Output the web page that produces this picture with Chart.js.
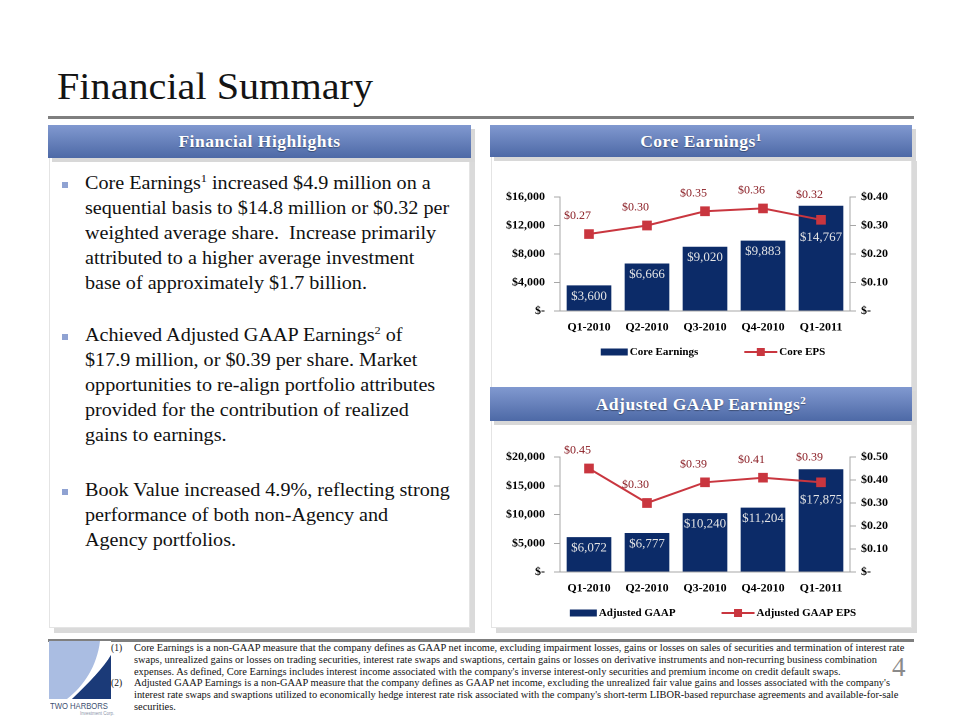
<!DOCTYPE html>
<html><head><meta charset="utf-8">
<script src="https://cdn.jsdelivr.net/npm/chart.js@4.4.1/dist/chart.umd.min.js"></script>
<style>
html,body{margin:0;padding:0;background:#fff;}
body{width:960px;height:720px;position:relative;overflow:hidden;font-family:"Liberation Serif",serif;color:#111;}
.abs{position:absolute;}
#title{left:57px;top:64px;font-size:38px;line-height:44px;white-space:nowrap;transform-origin:0 0;color:#141414;}
#rule{left:48px;top:116px;width:866px;height:3px;background:#7f7f7f;}
#footrule{left:48px;top:639px;width:866px;height:3px;background:#7f7f7f;}
.panel{position:absolute;background:#fff;border:1px solid #e4e4e4;box-shadow:5px 5px 0 #dadada;box-sizing:border-box;}
.hdr{position:absolute;background:linear-gradient(#8199d0,#4d69a6);color:#fff;font-weight:bold;font-size:17.5px;text-align:center;letter-spacing:0.5px;text-shadow:0 1px 1px rgba(0,0,0,0.35);box-shadow:4px 4px 0 #d8d8d8;box-sizing:border-box;}
.hdr sup{font-size:11px;vertical-align:6px;line-height:0;}
.para{position:absolute;left:85px;font-size:18px;line-height:25px;}
.para div{white-space:nowrap;transform-origin:0 50%;}
.para sup{font-size:11px;vertical-align:7px;line-height:0;}
.bul{position:absolute;left:62px;width:6px;height:6px;background:#8fa2d2;}
#fn{left:134px;top:643px;font-size:9.5px;line-height:11.8px;}
#fn div{white-space:nowrap;transform-origin:0 50%;}
.fnum{position:absolute;left:111px;font-size:9.5px;line-height:11.8px;}
#pnum{left:892px;top:652px;font-size:27px;color:#8a8a8a;}
#brand{left:50px;top:701px;font-family:"Liberation Sans",sans-serif;font-size:8.5px;color:#3d4f70;white-space:nowrap;transform-origin:0 0;}
#brand2{left:80px;top:711px;font-family:"Liberation Sans",sans-serif;font-size:4.5px;color:#8a94a8;white-space:nowrap;}
canvas{position:absolute;}
</style>
</head>
<body>
<div id="title" class="abs">Financial Summary</div>
<div id="rule" class="abs"></div>

<!-- Left panel -->
<div class="panel" style="left:49px;top:157px;width:421px;height:471px;"></div>
<div class="hdr" style="left:48px;top:125px;width:423px;height:33px;line-height:33px;">Financial Highlights</div>

<div class="bul" style="top:182px"></div>
<div class="para" style="top:171px">
<div class="bl">Core Earnings<sup>1</sup> increased $4.9 million on a</div>
<div class="bl">sequential basis to $14.8 million or $0.32 per</div>
<div class="bl">weighted average share.&nbsp; Increase primarily</div>
<div class="bl">attributed to a higher average investment</div>
<div class="bl">base of approximately $1.7 billion.</div>
</div>
<div class="bul" style="top:334px"></div>
<div class="para" style="top:323px">
<div class="bl">Achieved Adjusted GAAP Earnings<sup>2</sup> of</div>
<div class="bl">$17.9 million, or $0.39 per share. Market</div>
<div class="bl">opportunities to re-align portfolio attributes</div>
<div class="bl">provided for the contribution of realized</div>
<div class="bl">gains to earnings.</div>
</div>
<div class="bul" style="top:489px"></div>
<div class="para" style="top:478px">
<div class="bl">Book Value increased 4.9%, reflecting strong</div>
<div class="bl">performance of both non-Agency and</div>
<div class="bl">Agency portfolios.</div>
</div>

<!-- Right column -->
<div class="panel" style="left:491px;top:156px;width:421px;height:472px;"></div>
<div class="hdr" style="left:490px;top:125px;width:422px;height:32px;line-height:32px;">Core Earnings<sup>1</sup></div>
<canvas id="c1"></canvas>
<div class="hdr" style="left:490px;top:387px;width:422px;height:34px;line-height:34px;">Adjusted GAAP Earnings<sup>2</sup></div>
<canvas id="c2"></canvas>

<!-- Footer -->
<div id="footrule" class="abs"></div>
<svg class="abs" style="left:49px;top:641px" width="62" height="58" viewBox="0 0 62 58">
<rect width="62" height="58" fill="#aabde2"/>
<path d="M51,0 C48,25 35,45 18,58 L23,58 C40,42 55,26 62,14 L62,0 Z" fill="#ffffff"/>
<path d="M62,14 C55,26 40,42 23,58 L62,58 Z" fill="#1b3a78"/>
</svg>
<div id="brand" class="abs">TWO HARBORS</div>
<div id="brand2" class="abs">Investment Corp.</div>

<div class="fnum" style="top:643px">(1)</div>
<div class="fnum" style="top:678.4px">(2)</div>
<div id="fn" class="abs">
<div class="fl">Core Earnings is a non-GAAP measure that the company defines as GAAP net income, excluding impairment losses, gains or losses on sales of securities and termination of interest rate</div>
<div class="fl">swaps, unrealized gains or losses on trading securities, interest rate swaps and swaptions, certain gains or losses on derivative instruments and non-recurring business combination</div>
<div class="fl">expenses. As defined, Core Earnings includes interest income associated with the company's inverse interest-only securities and premium income on credit default swaps.</div>
<div class="fl">Adjusted GAAP Earnings is a non-GAAP measure that the company defines as GAAP net income, excluding the unrealized fair value gains and losses associated with the company's</div>
<div class="fl">interest rate swaps and swaptions utilized to economically hedge interest rate risk associated with the company's short-term LIBOR-based repurchase agreements and available-for-sale</div>
<div class="fl">securities.</div>
</div>
<div id="pnum" class="abs">4</div>

<script>
// ---------------- DATA ----------------
const quarters = ['Q1-2010', 'Q2-2010', 'Q3-2010', 'Q4-2010', 'Q1-2011'];
const coreEarnings = [3600, 6666, 9020, 9883, 14767];
const coreEPS = [0.27, 0.30, 0.35, 0.36, 0.32];
const adjustedGAAP = [6072, 6777, 10240, 11204, 17875];
const adjustedGAAPEPS = [0.45, 0.30, 0.39, 0.41, 0.39];
const coreDollarTicks = [0, 4000, 8000, 12000, 16000];
const coreEPSTicks = [0, 0.10, 0.20, 0.30, 0.40];
const adjDollarTicks = [0, 5000, 10000, 15000, 20000];
const adjEPSTicks = [0, 0.10, 0.20, 0.30, 0.40, 0.50];
const seriesNames = ['Core Earnings', 'Core EPS', 'Adjusted GAAP', 'Adjusted GAAP EPS'];

// ---------------- TEXT FITTING (styling only) ----------------
function fitGroup(selector, targets) {
  const els = Array.from(document.querySelectorAll(selector));
  let sumT = 0, sumA = 0;
  els.forEach((el, i) => {
    el.style.display = 'inline-block';
    sumA += el.getBoundingClientRect().width; sumT += targets[i];
  });
  const s = sumT / sumA;
  els.forEach(el => { el.style.display = 'block'; el.style.width = 'max-content'; el.style.transform = 'scaleX(' + s + ')'; });
}
function fitOne(id, w) {
  const el = document.getElementById(id);
  el.style.display = 'inline-block';
  const a = el.getBoundingClientRect().width;
  el.style.transform = 'scaleX(' + (w / a) + ')';
}
fitGroup('.bl', [347, 351, 349, 333, 267, 328, 332, 351, 334, 132, 367, 315, 151]);
fitGroup('.fl', [770, 736, 715, 757, 762, 42]);
fitOne('title', 316);
fitOne('brand', 58);

// ---------------- CHARTS ----------------
const FONT = '"Liberation Serif", serif';
const BAR_COLOR = '#0c2b68';
const LINE_COLOR = '#c9363f';
const AXIS_COLOR = '#a6a6a6';

function fmtDollar(v) { return v === 0 ? '$-' : '$' + v.toLocaleString('en-US'); }
function fmtEPS(v) { return v === 0 ? '$-' : '$' + v.toFixed(2); }

const labelPlugin = {
  id: 'valueLabels',
  afterDatasetsDraw(chart) {
    const ctx = chart.ctx;
    const dsets = chart.data.datasets;
    const barIdx = dsets.findIndex(d => d.type === 'bar');
    const lineIdx = dsets.findIndex(d => d.type === 'line');
    const bars = chart.getDatasetMeta(barIdx).data;
    const pts = chart.getDatasetMeta(lineIdx).data;
    ctx.save();
    ctx.textBaseline = 'middle';
    // bar value labels, moved below the EPS marker when the marker sits inside the bar
    ctx.font = '13px ' + FONT;
    ctx.fillStyle = '#e6e6e6';
    ctx.textAlign = 'center';
    bars.forEach((el, j) => {
      let y = el.y + 11;
      const p = pts[j];
      if (p && p.y > el.y - 4 && p.y < y + 10) y = Math.max(y, p.y + 18);
      ctx.fillText(fmtDollar(dsets[barIdx].data[j]), el.x, y);
    });
    // EPS labels, right-aligned just above-left of the marker
    ctx.font = '12px ' + FONT;
    ctx.fillStyle = '#8a1d24';
    ctx.textAlign = 'right';
    pts.forEach((el, j) => {
      const b = bars[j];
      const off = (b && el.y > b.y) ? 25 : 18;
      ctx.fillText(fmtEPS(dsets[lineIdx].data[j]), el.x + 2, el.y - off);
    });
    ctx.restore();
  }
};

const legendPlugin = {
  id: 'customLegend',
  afterDraw(chart) {
    const ctx = chart.ctx, a = chart.chartArea;
    const bar = chart.data.datasets.find(d => d.type === 'bar');
    const line = chart.data.datasets.find(d => d.type === 'line');
    ctx.save();
    ctx.font = 'bold 11px ' + FONT;
    const w1 = ctx.measureText(bar.label).width, w2 = ctx.measureText(line.label).width;
    const bw = 27, lw = 33, gap = 46;
    const total = bw + 2 + w1 + gap + lw + 2 + w2;
    let x = (a.left + a.right) / 2 + 8 - total / 2;
    const y = a.bottom + 41;
    ctx.fillStyle = bar.backgroundColor;
    ctx.fillRect(x, y - 3.5, bw, 7);
    ctx.fillStyle = '#000';
    ctx.textBaseline = 'middle';
    ctx.textAlign = 'left';
    ctx.fillText(bar.label, x + bw + 2, y);
    x += bw + 2 + w1 + gap;
    ctx.strokeStyle = line.borderColor; ctx.lineWidth = 2;
    ctx.beginPath(); ctx.moveTo(x, y); ctx.lineTo(x + lw, y); ctx.stroke();
    ctx.fillStyle = line.borderColor;
    ctx.fillRect(x + lw / 2 - 4, y - 4, 8, 8);
    ctx.fillStyle = '#000';
    ctx.fillText(line.label, x + lw + 2, y);
    ctx.restore();
  }
};

function makeChart(id, left, top, w, h, padTop, padBottom, barName, barData, lineName, lineData, dTicks, eTicks) {
  const cv = document.getElementById(id);
  cv.style.left = left + 'px'; cv.style.top = top + 'px';
  cv.width = w; cv.height = h;
  cv.style.width = w + 'px'; cv.style.height = h + 'px';
  const tickFont = { family: FONT, weight: 'bold', size: 12 };
  return new Chart(cv, {
    data: {
      labels: quarters,
      datasets: [
        { type: 'line', label: lineName, data: lineData, yAxisID: 'y1', order: 0,
          borderColor: LINE_COLOR, backgroundColor: LINE_COLOR, borderWidth: 2,
          pointStyle: 'rect', pointRadius: 5.4, pointBackgroundColor: LINE_COLOR, pointBorderColor: LINE_COLOR, tension: 0 },
        { type: 'bar', label: barName, data: barData, yAxisID: 'y', order: 1,
          backgroundColor: BAR_COLOR, barPercentage: 0.77, categoryPercentage: 1.0 }
      ]
    },
    options: {
      responsive: false, animation: false, devicePixelRatio: 2,
      layout: { padding: { top: padTop, bottom: padBottom, left: 0, right: 0 } },
      plugins: { legend: { display: false }, tooltip: { enabled: false } },
      scales: {
        x: {
          grid: { display: false, drawTicks: false },
          border: { display: true, color: AXIS_COLOR },
          ticks: { font: tickFont, color: '#000', padding: 9, maxRotation: 0 },
          afterFit: s => { s.height = 30; }
        },
        y: {
          position: 'left', min: 0, max: dTicks[dTicks.length - 1],
          afterBuildTicks: s => { s.ticks = dTicks.map(v => ({ value: v })); },
          afterFit: s => { s.width = 70; },
          grid: { drawOnChartArea: false, tickLength: 6, color: AXIS_COLOR },
          border: { display: true, color: AXIS_COLOR },
          ticks: { font: tickFont, color: '#000', padding: 9, callback: v => fmtDollar(v) }
        },
        y1: {
          position: 'right', min: 0, max: eTicks[eTicks.length - 1],
          afterBuildTicks: s => { s.ticks = eTicks.map(v => ({ value: v })); },
          afterFit: s => { s.width = 63; },
          grid: { drawOnChartArea: false, tickLength: 6, color: AXIS_COLOR },
          border: { display: true, color: AXIS_COLOR },
          ticks: { font: tickFont, color: '#000', padding: 5, callback: v => fmtEPS(v) }
        }
      }
    },
    plugins: [labelPlugin, legendPlugin]
  });
}

makeChart('c1', 490, 158, 423, 217, 39, 34, seriesNames[0], coreEarnings, seriesNames[1], coreEPS, coreDollarTicks, coreEPSTicks);
makeChart('c2', 490, 421, 423, 201, 36, 20, seriesNames[2], adjustedGAAP, seriesNames[3], adjustedGAAPEPS, adjDollarTicks, adjEPSTicks);
</script>
</body></html>
